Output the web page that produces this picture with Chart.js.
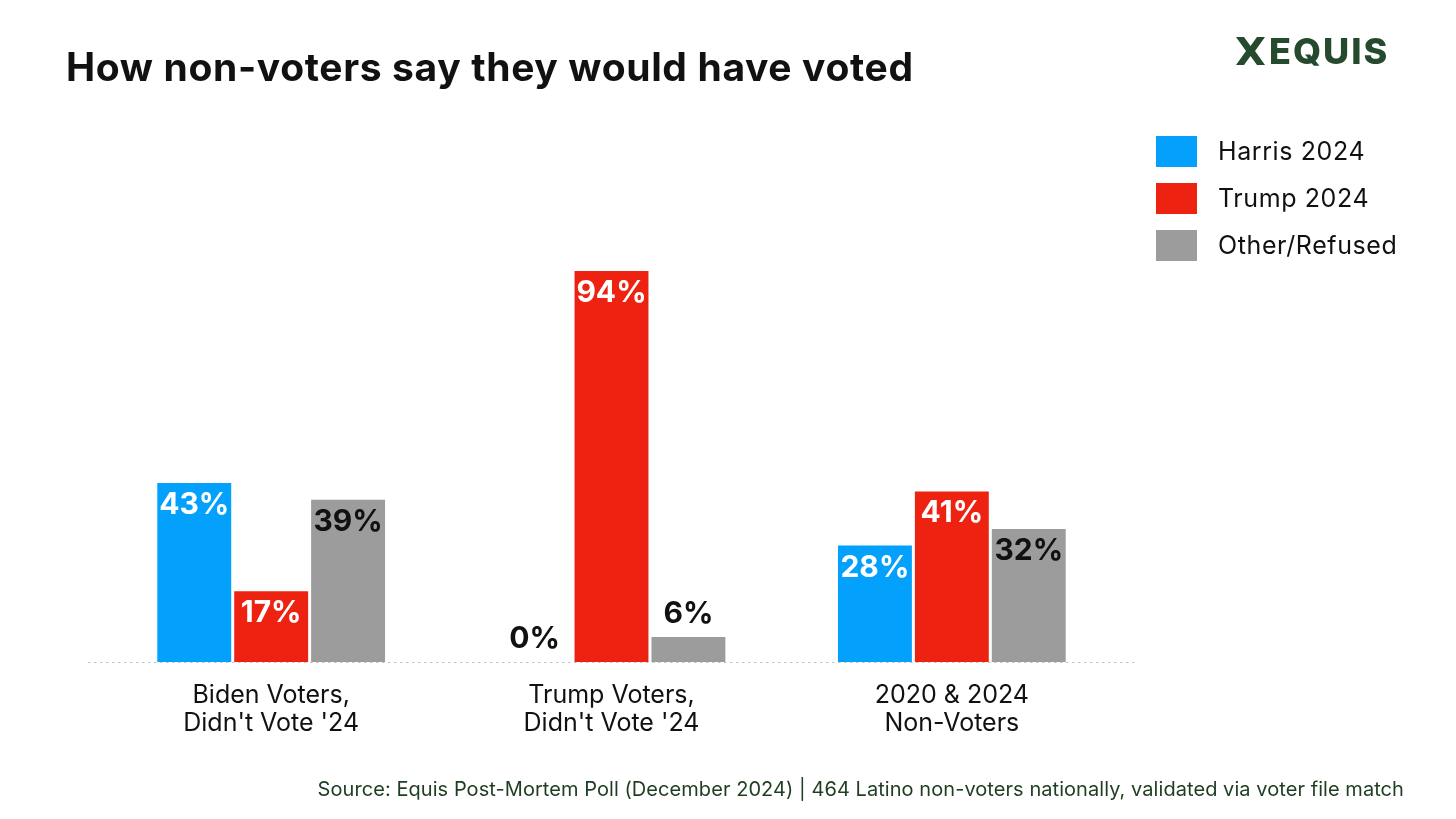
<!DOCTYPE html>
<html>
<head>
<meta charset="utf-8">
<script src="https://cdn.jsdelivr.net/npm/chart.js@4.4.1/dist/chart.umd.min.js"></script>
<style>
  html, body { margin:0; padding:0; background:#fff; }
  #wrap { position:relative; width:1456px; height:819px; overflow:hidden; font-family: Inter, "Noto Sans", sans-serif; }
  #c { position:absolute; left:0; top:0; }
  #title { position:absolute; left:66px; top:43px; font-size:39px; font-weight:700; color:#111; letter-spacing:0.65px; white-space:nowrap; }
  #logo { position:absolute; left:1236px; top:31px; display:flex; align-items:center; color:#264a2e; }
  #logo span { font-size:36px; font-weight:800; letter-spacing:2px; margin-left:4px; line-height:40px; }
  #source { position:absolute; right:52px; top:777px; font-size:20px; letter-spacing:0.06px; color:#1e3d21; white-space:nowrap; }
</style>
</head>
<body>
<div id="wrap">
  <canvas id="c" width="1456" height="819"></canvas>
  <div id="title">How non-voters say they would have voted</div>
  <div id="logo">
    <svg width="29" height="28" viewBox="0 0 29 28">
      <polygon points="0,0 8,0 14.5,9 21,0 29,0 19,14 29,28 21,28 14.5,19 8,28 0,28 10,14" fill="#264a2e"/>
    </svg>
    <span>EQUIS</span>
  </div>
  <div id="source">Source: Equis Post-Mortem Poll (December 2024) | 464 Latino non-voters nationally, validated via voter file match</div>
</div>
<script>
const categories = [["Biden Voters,", "Didn't Vote '24"], ["Trump Voters,", "Didn't Vote '24"], ["2020 & 2024", "Non-Voters"]];
const seriesNames = ["Harris 2024", "Trump 2024", "Other/Refused"];
const harris = [43, 0, 28];
const trump = [17, 94, 41];
const other = [39, 6, 32];

const colors = ["#03A1FC", "#EE2210", "#9C9C9C"];
const labelColors = ["#ffffff", "#ffffff", "#111111"];

const baselinePlugin = {
  id: 'baseline',
  beforeDatasetsDraw(chart) {
    const ctx = chart.ctx, y = chart.scales.y.getPixelForValue(0);
    ctx.save();
    ctx.strokeStyle = '#c4c4c4';
    ctx.lineWidth = 1.2;
    ctx.setLineDash([2.5, 3.5]);
    ctx.beginPath();
    ctx.moveTo(88, y + 0.5);
    ctx.lineTo(1137, y + 0.5);
    ctx.stroke();
    ctx.restore();
  }
};

const labelPlugin = {
  id: 'valueLabels',
  afterDatasetsDraw(chart) {
    const ctx = chart.ctx;
    ctx.save();
    ctx.font = '700 30px Inter, "Noto Sans", sans-serif';
    ctx.textAlign = 'center';
    ctx.textBaseline = 'alphabetic';
    chart.data.datasets.forEach((ds, di) => {
      const meta = chart.getDatasetMeta(di);
      meta.data.forEach((bar, i) => {
        const v = ds.data[i];
        const h = bar.base - bar.y;
        const txt = v + '%';
        if (h > 45) {
          ctx.fillStyle = labelColors[di];
          ctx.fillText(txt, bar.x, bar.y + 31);
        } else {
          ctx.fillStyle = '#111111';
          ctx.fillText(txt, bar.x, bar.y - 14);
        }
      });
    });
    ctx.restore();
  }
};

const legendPlugin = {
  id: 'customLegend',
  afterDraw(chart) {
    const ctx = chart.ctx;
    ctx.save();
    ctx.font = '400 25px Inter, "Noto Sans", sans-serif';
    try { ctx.letterSpacing = '0.6px'; } catch (e) {}
    ctx.textBaseline = 'middle';
    ctx.textAlign = 'left';
    chart.data.datasets.forEach((ds, di) => {
      const top = 136 + di * 47;
      ctx.fillStyle = ds.backgroundColor;
      ctx.fillRect(1156, top, 41, 31);
      ctx.fillStyle = '#111111';
      ctx.fillText(ds.label, 1218, top + 16);
    });
    ctx.restore();
  }
};

new Chart(document.getElementById('c'), {
  type: 'bar',
  data: {
    labels: categories,
    datasets: [
      { label: seriesNames[0], data: harris, backgroundColor: colors[0] },
      { label: seriesNames[1], data: trump, backgroundColor: colors[1] },
      { label: seriesNames[2], data: other, backgroundColor: colors[2] }
    ]
  },
  options: {
    responsive: false,
    animation: false,
    devicePixelRatio: 1,
    layout: { padding: { left: 101, right: 334, top: 246, bottom: 70 } },
    categoryPercentage: 0.678,
    barPercentage: 0.961,
    plugins: { legend: { display: false }, tooltip: { enabled: false } },
    scales: {
      y: { display: false, min: 0, max: 100 },
      x: {
        grid: { display: false },
        border: { display: false },
        ticks: { color: '#111', font: { family: 'Inter, "Noto Sans", sans-serif', size: 25, lineHeight: 1.1 }, padding: 12, maxRotation: 0 }
      }
    }
  },
  plugins: [baselinePlugin, labelPlugin, legendPlugin]
});
</script>
</body>
</html>
